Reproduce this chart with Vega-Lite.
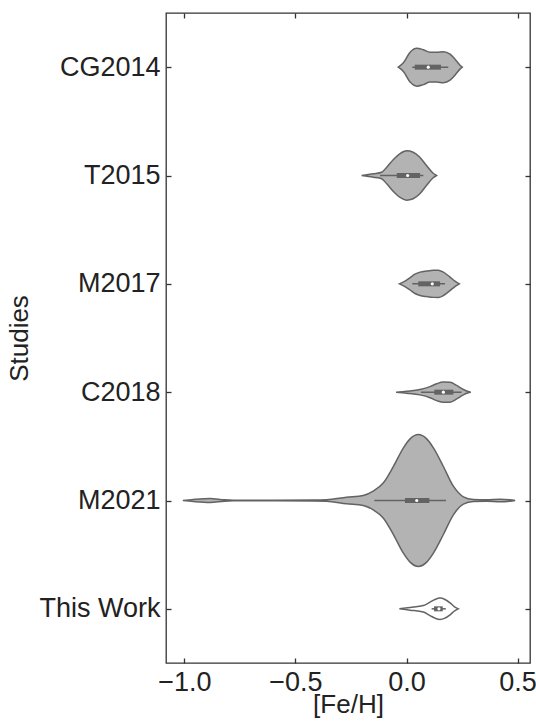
{
  "$schema": "https://vega.github.io/schema/vega-lite/v6.json",
  "width": 364,
  "height": 650,
  "autosize": "none",
  "padding": {"left": 166, "top": 13, "right": 6, "bottom": 58},
  "background": "white",
  "config": {
    "view": {"stroke": "#333333", "strokeWidth": 1.3},
    "axis": {
      "labelFont": "Liberation Sans",
      "titleFont": "Liberation Sans",
      "labelFontSize": 27,
      "titleFontSize": 26,
      "titleFontWeight": "normal",
      "labelColor": "#222222",
      "titleColor": "#222222",
      "tickColor": "#333333",
      "tickWidth": 1.3,
      "grid": false,
      "domain": false
    }
  },
  "datasets": {
    "violin": [
      {"s": "CG2014", "fe": -0.037, "w": 0},
      {"s": "CG2014", "fe": -0.014, "w": 0.040},
      {"s": "CG2014", "fe": 0.016, "w": 0.138},
      {"s": "CG2014", "fe": 0.046, "w": 0.175},
      {"s": "CG2014", "fe": 0.076, "w": 0.161},
      {"s": "CG2014", "fe": 0.106, "w": 0.138},
      {"s": "CG2014", "fe": 0.136, "w": 0.138},
      {"s": "CG2014", "fe": 0.166, "w": 0.143},
      {"s": "CG2014", "fe": 0.196, "w": 0.120},
      {"s": "CG2014", "fe": 0.218, "w": 0.074},
      {"s": "CG2014", "fe": 0.241, "w": 0.018},
      {"s": "CG2014", "fe": 0.251, "w": 0},
      {"s": "T2015", "fe": -0.202, "w": 0},
      {"s": "T2015", "fe": -0.149, "w": 0.016},
      {"s": "T2015", "fe": -0.112, "w": 0.030},
      {"s": "T2015", "fe": -0.089, "w": 0.077},
      {"s": "T2015", "fe": -0.059, "w": 0.148},
      {"s": "T2015", "fe": -0.029, "w": 0.203},
      {"s": "T2015", "fe": 0.0, "w": 0.228},
      {"s": "T2015", "fe": 0.030, "w": 0.215},
      {"s": "T2015", "fe": 0.060, "w": 0.169},
      {"s": "T2015", "fe": 0.090, "w": 0.092},
      {"s": "T2015", "fe": 0.120, "w": 0.021},
      {"s": "T2015", "fe": 0.135, "w": 0},
      {"s": "M2017", "fe": -0.032, "w": 0},
      {"s": "M2017", "fe": -0.007, "w": 0.025},
      {"s": "M2017", "fe": 0.016, "w": 0.057},
      {"s": "M2017", "fe": 0.038, "w": 0.089},
      {"s": "M2017", "fe": 0.061, "w": 0.108},
      {"s": "M2017", "fe": 0.091, "w": 0.118},
      {"s": "M2017", "fe": 0.121, "w": 0.125},
      {"s": "M2017", "fe": 0.143, "w": 0.126},
      {"s": "M2017", "fe": 0.166, "w": 0.108},
      {"s": "M2017", "fe": 0.196, "w": 0.062},
      {"s": "M2017", "fe": 0.218, "w": 0.025},
      {"s": "M2017", "fe": 0.238, "w": 0},
      {"s": "C2018", "fe": -0.047, "w": 0},
      {"s": "C2018", "fe": 0.001, "w": 0.009},
      {"s": "C2018", "fe": 0.061, "w": 0.025},
      {"s": "C2018", "fe": 0.106, "w": 0.051},
      {"s": "C2018", "fe": 0.136, "w": 0.078},
      {"s": "C2018", "fe": 0.166, "w": 0.094},
      {"s": "C2018", "fe": 0.196, "w": 0.092},
      {"s": "C2018", "fe": 0.226, "w": 0.062},
      {"s": "C2018", "fe": 0.256, "w": 0.025},
      {"s": "C2018", "fe": 0.278, "w": 0.006},
      {"s": "C2018", "fe": 0.289, "w": 0},
      {"s": "M2021", "fe": -1.007, "w": 0},
      {"s": "M2021", "fe": -0.96, "w": 0.009},
      {"s": "M2021", "fe": -0.885, "w": 0.018},
      {"s": "M2021", "fe": -0.82, "w": 0.006},
      {"s": "M2021", "fe": -0.78, "w": 0.003},
      {"s": "M2021", "fe": -0.6, "w": 0.003},
      {"s": "M2021", "fe": -0.42, "w": 0.004},
      {"s": "M2021", "fe": -0.36, "w": 0.007},
      {"s": "M2021", "fe": -0.27, "w": 0.030},
      {"s": "M2021", "fe": -0.195, "w": 0.046},
      {"s": "M2021", "fe": -0.150, "w": 0.086},
      {"s": "M2021", "fe": -0.104, "w": 0.163},
      {"s": "M2021", "fe": -0.059, "w": 0.314},
      {"s": "M2021", "fe": -0.014, "w": 0.486},
      {"s": "M2021", "fe": 0.016, "w": 0.569},
      {"s": "M2021", "fe": 0.053, "w": 0.609},
      {"s": "M2021", "fe": 0.091, "w": 0.569},
      {"s": "M2021", "fe": 0.121, "w": 0.486},
      {"s": "M2021", "fe": 0.166, "w": 0.314},
      {"s": "M2021", "fe": 0.211, "w": 0.132},
      {"s": "M2021", "fe": 0.256, "w": 0.034},
      {"s": "M2021", "fe": 0.301, "w": 0.009},
      {"s": "M2021", "fe": 0.361, "w": 0.006},
      {"s": "M2021", "fe": 0.421, "w": 0.012},
      {"s": "M2021", "fe": 0.466, "w": 0.006},
      {"s": "M2021", "fe": 0.489, "w": 0},
      {"s": "This Work", "fe": -0.032, "w": 0},
      {"s": "This Work", "fe": 0.016, "w": 0.012},
      {"s": "This Work", "fe": 0.076, "w": 0.030},
      {"s": "This Work", "fe": 0.106, "w": 0.062},
      {"s": "This Work", "fe": 0.128, "w": 0.086},
      {"s": "This Work", "fe": 0.151, "w": 0.099},
      {"s": "This Work", "fe": 0.173, "w": 0.086},
      {"s": "This Work", "fe": 0.196, "w": 0.055},
      {"s": "This Work", "fe": 0.218, "w": 0.016},
      {"s": "This Work", "fe": 0.233, "w": 0}
    ],
    "box": [
      {"s": "CG2014", "pos": 0, "wlo": 0.026, "q1": 0.037, "med": 0.098, "q3": 0.155, "whi": 0.188},
      {"s": "T2015", "pos": 1, "wlo": -0.119, "q1": -0.044, "med": 0.005, "q3": 0.061, "whi": 0.076},
      {"s": "M2017", "pos": 2, "wlo": 0.026, "q1": 0.053, "med": 0.116, "q3": 0.151, "whi": 0.173},
      {"s": "C2018", "pos": 3, "wlo": 0.065, "q1": 0.125, "med": 0.166, "q3": 0.211, "whi": 0.248},
      {"s": "M2021", "pos": 4, "wlo": -0.145, "q1": -0.007, "med": 0.046, "q3": 0.103, "whi": 0.178},
      {"s": "This Work", "pos": 5, "wlo": 0.113, "q1": 0.124, "med": 0.146, "q3": 0.163, "whi": 0.177}
    ]
  },
  "layer": [
    {
      "data": {"name": "violin"},
      "transform": [
        {"lookup": "s", "from": {"data": {"name": "box"}, "key": "s", "fields": ["pos"]}},
        {"calculate": "datum.pos - datum.w", "as": "lo"},
        {"calculate": "datum.pos + datum.w", "as": "hi"}
      ],
      "mark": {"type": "area", "interpolate": "monotone", "stroke": "#636363", "strokeWidth": 1.5, "fillOpacity": 1},
      "encoding": {
        "x": {
          "field": "fe", "type": "quantitative",
          "scale": {"domain": [-1.083, 0.556], "nice": false, "zero": false},
          "axis": {"orient": "bottom", "title": "[Fe/H]", "values": [-1, -0.5, 0, 0.5], "format": ".1f", "tickSize": -5, "labelPadding": 11, "labelFlush": false, "labelOverlap": false, "titlePadding": -4}
        },
        "y": {
          "field": "lo", "type": "quantitative",
          "scale": {"domain": [-0.5, 5.5], "reverse": true, "nice": false, "zero": false},
          "axis": {"orient": "left", "title": "Studies", "values": [0, 1, 2, 3, 4, 5], "labelExpr": "['CG2014','T2015','M2017','C2018','M2021','This Work'][datum.value]", "tickSize": -5, "labelPadding": 11, "titlePadding": 6}
        },
        "y2": {"field": "hi"},
        "fill": {
          "field": "s", "type": "nominal",
          "scale": {"domain": ["CG2014", "T2015", "M2017", "C2018", "M2021", "This Work"], "range": ["#b3b3b3", "#b3b3b3", "#b3b3b3", "#b3b3b3", "#b3b3b3", "#ffffff"]},
          "legend": null
        }
      }
    },
    {
      "data": {"name": "box"},
      "mark": {"type": "rule", "color": "#636363", "strokeWidth": 1.5},
      "encoding": {
        "x": {"field": "wlo", "type": "quantitative", "axis": null},
        "x2": {"field": "whi"},
        "y": {"field": "pos", "type": "quantitative", "axis": null}
      }
    },
    {
      "data": {"name": "box"},
      "mark": {"type": "rule", "color": "#636363", "strokeWidth": 5},
      "encoding": {
        "x": {"field": "q1", "type": "quantitative", "axis": null},
        "x2": {"field": "q3"},
        "y": {"field": "pos", "type": "quantitative", "axis": null}
      }
    },
    {
      "data": {"name": "box"},
      "mark": {"type": "point", "filled": true, "color": "#ffffff", "size": 10, "opacity": 1},
      "encoding": {
        "x": {"field": "med", "type": "quantitative", "axis": {"orient": "top", "title": null, "labels": false, "values": [-1, -0.5, 0, 0.5], "tickSize": -5}},
        "y": {"field": "pos", "type": "quantitative", "axis": {"orient": "right", "title": null, "labels": false, "values": [0, 1, 2, 3, 4, 5], "tickSize": -5}}
      }
    }
  ],
  "resolve": {"axis": {"x": "independent", "y": "independent"}}
}
